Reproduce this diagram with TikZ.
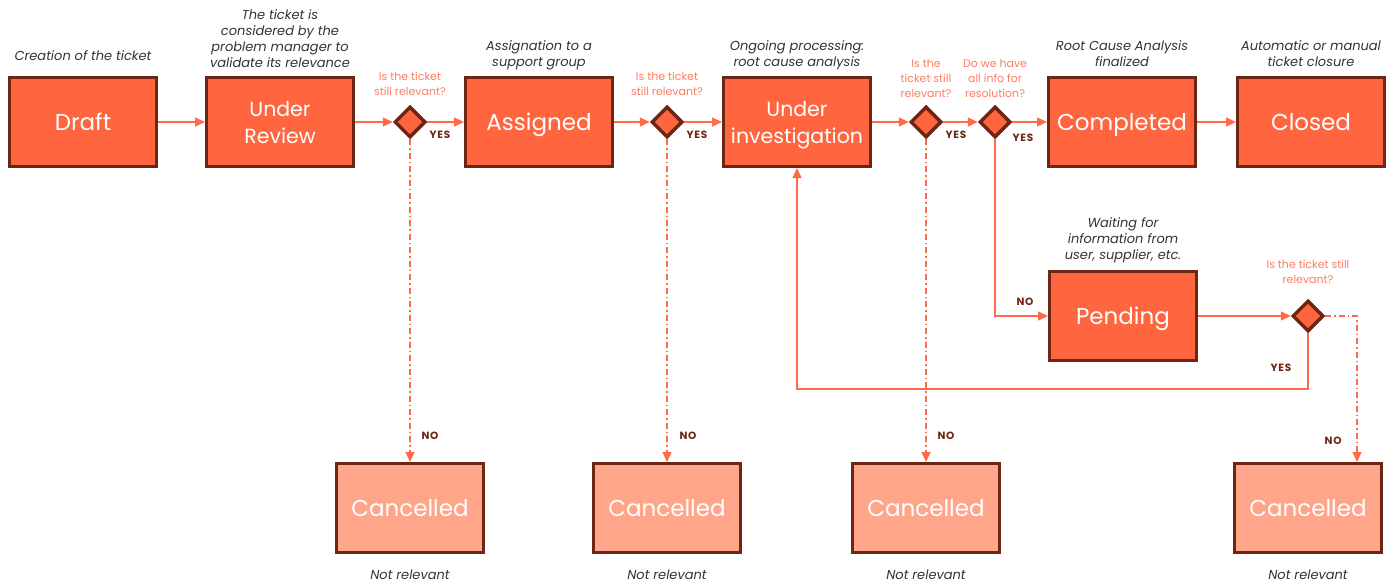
\documentclass[tikz,border=0pt]{standalone}
\usepackage{fontspec}
\setmainfont{Poppins}
\definecolor{stateorange}{RGB}{255,102,64}
\definecolor{cancelpink}{RGB}{255,166,138}
\definecolor{edgebrown}{RGB}{110,38,20}
\definecolor{flowred}{RGB}{255,106,72}
\definecolor{askred}{RGB}{255,125,95}
\definecolor{notegray}{RGB}{51,51,51}
\usetikzlibrary{shapes.geometric, arrows.meta}

\begin{document}
\begin{tikzpicture}[x=1pt, y=-1pt,
    state/.style={draw=edgebrown, line width=3pt, fill=stateorange, minimum width=147pt,
                  minimum height=89pt, inner sep=0pt, text=white, align=center, text depth=0pt,
                  font=\fontsize{23}{27}\selectfont},
    twoline/.style={font=\fontsize{20.5}{27}\selectfont},
    cancel/.style={state, fill=cancelpink},
    choice/.style={diamond, draw=edgebrown, line width=3.5pt, fill=stateorange,
                   minimum width=31pt, minimum height=31pt, inner sep=0pt},
    note/.style={anchor=south, inner sep=0pt, text depth=0pt, align=center, text=notegray,
                 font=\fontsize{13}{16}\selectfont\itshape},
    ask/.style={anchor=south, inner sep=0pt, text depth=0pt, align=center, text=askred,
                font=\fontsize{11}{15}\selectfont},
    answer/.style={inner sep=0pt, text=edgebrown,
                   font=\fontsize{10.5}{12}\selectfont\bfseries\addfontfeature{LetterSpace=8}},
    flow/.style={draw=flowred, line width=1.3pt, -{Triangle[length=10pt,width=9pt]}},
    drop/.style={flow, dash pattern=on 6pt off 3pt on 1.5pt off 3pt}]
    \useasboundingbox (0,0) rectangle (1396,586);

    % main line of states
    \node[state] (draft) at (83,122) {Draft};
    \node[state, twoline] (review) at (280,122) {Under\\Review};
    \node[choice] (q1) at (410,122) {};
    \node[state] (assigned) at (539,122) {Assigned};
    \node[choice] (q2) at (667,122) {};
    \node[state, twoline] (investigation) at (797,122) {Under\\investigation};
    \node[choice] (q3) at (926,122) {};
    \node[choice] (q4) at (995,122) {};
    \node[state] (completed) at (1122,122) {Completed};
    \node[state] (closed) at (1311,122) {Closed};
    \node[state] (pending) at (1123,316) {Pending};
    \node[choice] (q5) at (1308,316) {};
    \foreach \x/\n in {410/1, 667/2, 926/3, 1308/4} {
        \node[cancel] (cancel\n) at (\x,508) {Cancelled};
        \node[note] (cancel\n-note) at (\x,580) {Not relevant};
    }

    % descriptions
    \node[note] (draft-note) at (83,61) {Creation of the ticket};
    \node[note] (review-note) at (280,68) {The ticket is\\considered by the\\problem manager to\\validate its relevance};
    \node[note] (assigned-note) at (539,67) {Assignation to a\\support group};
    \node[note] (investigation-note) at (797,67) {Ongoing processing:\\root cause analysis};
    \node[note] (completed-note) at (1122,67) {Root Cause Analysis\\finalized};
    \node[note] (closed-note) at (1311,67) {Automatic or manual\\ticket closure};
    \node[note] (pending-note) at (1123,260) {Waiting for\\information from\\user, supplier, etc.};

    % questions
    \node[ask] (q1-text) at (410,96) {Is the ticket\\still relevant?};
    \node[ask] (q2-text) at (667,96) {Is the ticket\\still relevant?};
    \node[ask] (q3-text) at (926,98) {Is the\\ticket still\\relevant?};
    \node[ask] (q4-text) at (995,98) {Do we have\\all info for\\resolution?};
    \node[ask] (q5-text) at (1308,284) {Is the ticket still\\relevant?};

    % flow
    \draw[flow] (draft) -- (review);
    \draw[flow] (review) -- (q1);
    \draw[flow] (q1) -- (assigned);
    \draw[flow] (assigned) -- (q2);
    \draw[flow] (q2) -- (investigation);
    \draw[flow] (investigation) -- (q3);
    \draw[flow] (q3) -- (q4);
    \draw[flow] (q4) -- (completed);
    \draw[flow] (completed) -- (closed);
    \draw[flow] (q4.south) |- (pending.west);
    \draw[flow] (pending) -- (q5);
    \coordinate (back) at (1308,389);
    \draw[flow] (q5.south) -- (back) -| (investigation.south);

    % cancellations
    \draw[drop] (q1.south) -- (cancel1.north);
    \draw[drop] (q2.south) -- (cancel2.north);
    \draw[drop] (q3.south) -- (cancel3.north);
    \coordinate (turn) at (1357,316);
    \draw[drop] (q5.east) -- (turn) -- (turn |- cancel4.north);

    % answers
    \node[answer] (yes1) at (440,135) {YES};
    \node[answer] (yes2) at (697,135) {YES};
    \node[answer] (yes3) at (956,135) {YES};
    \node[answer] (yes4) at (1023,138) {YES};
    \node[answer] (yes5) at (1281,368) {YES};
    \node[answer] (no1) at (430,436) {NO};
    \node[answer] (no2) at (688,436) {NO};
    \node[answer] (no3) at (946,436) {NO};
    \node[answer] (no4) at (1025,302) {NO};
    \node[answer] (no5) at (1333,441) {NO};
\end{tikzpicture}
\end{document}
